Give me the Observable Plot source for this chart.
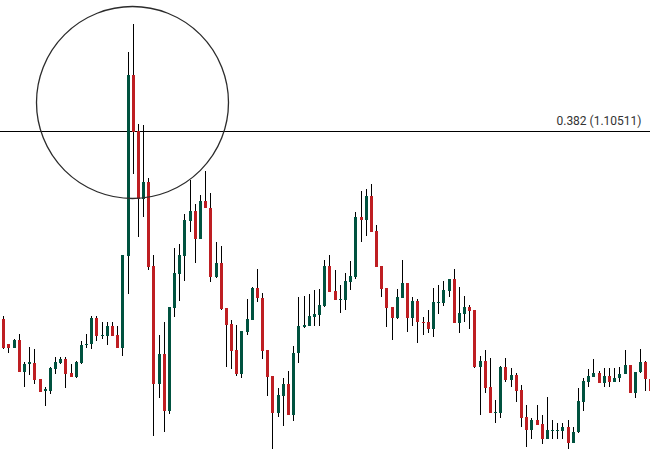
<!DOCTYPE html>
<html>
<head>
<meta charset="utf-8">
<script src="https://cdn.jsdelivr.net/npm/d3@7"></script>
<script src="https://cdn.jsdelivr.net/npm/@observablehq/plot@0.6"></script>
<style>
  html, body { margin: 0; padding: 0; background: #ffffff; }
  #chart { width: 650px; height: 450px; overflow: hidden; }
</style>
</head>
<body>
<div id="chart"></div>
<script>
// Candle OHLC prices, one entry per bar, left to right
const opens = [
  1.0863,1.0838,1.0834,1.0842,1.0810,1.0818,1.0819,1.0803,1.0791,1.0791,
  1.0813,1.0819,1.0823,1.0809,1.0805,1.0819,1.0837,1.0838,1.0864,1.0846,
  1.0846,1.0856,1.0847,1.0834,1.0926,1.1107,1.1051,1.0983,1.1000,1.0916,
  1.0798,1.0828,1.0771,1.0874,1.0908,1.0926,1.0961,1.0971,1.0943,1.0981,
  1.0974,1.0905,1.0919,1.0874,1.0858,1.0832,1.0808,1.0850,1.0862,1.0894,
  1.0884,1.0832,1.0806,1.0769,1.0786,1.0798,1.0767,1.0829,1.0855,1.0856,
  1.0865,1.0867,1.0876,1.0916,1.0891,1.0882,1.0882,1.0900,1.0905,1.0965,
  1.0962,1.0986,1.0951,1.0916,1.0894,1.0875,1.0864,1.0884,1.0899,1.0864,
  1.0881,1.0860,1.0860,1.0853,1.0879,1.0879,1.0891,1.0903,1.0859,1.0868,
  1.0875,1.0872,1.0815,1.0821,1.0795,1.0769,1.0769,1.0815,1.0802,1.0807,
  1.0792,1.0765,1.0752,1.0762,1.0758,1.0743,1.0751,1.0751,1.0751,1.0755,
  1.0739,1.0750,1.0780,1.0800,1.0805,1.0809,1.0799,1.0806,1.0800,1.0804,
  1.0808,1.0817,1.0789,1.0810,1.0820,1.0803
];
const highs = [
  1.0866,1.0838,1.0843,1.0848,1.0820,1.0835,1.0833,1.0803,1.0795,1.0815,
  1.0825,1.0825,1.0825,1.0818,1.0821,1.0841,1.0848,1.0866,1.0866,1.0860,
  1.0860,1.0860,1.0856,1.0927,1.1130,1.1158,1.1058,1.1057,1.1004,1.0927,
  1.0847,1.0860,1.0875,1.0934,1.0938,1.0968,1.1002,1.0978,1.0987,1.1011,
  1.0989,1.0940,1.0936,1.0874,1.0862,1.0857,1.0851,1.0883,1.0895,1.0913,
  1.0889,1.0832,1.0806,1.0794,1.0804,1.0811,1.0836,1.0885,1.0886,1.0888,
  1.0892,1.0893,1.0922,1.0927,1.0912,1.0897,1.0909,1.0921,1.0970,1.0991,
  1.0993,1.0998,1.0957,1.0916,1.0894,1.0875,1.0893,1.0922,1.0899,1.0885,
  1.0883,1.0865,1.0872,1.0894,1.0897,1.0901,1.0903,1.0913,1.0895,1.0886,
  1.0877,1.0872,1.0826,1.0832,1.0824,1.0782,1.0816,1.0824,1.0814,1.0809,
  1.0797,1.0777,1.0764,1.0777,1.0767,1.0785,1.0762,1.0759,1.0759,1.0762,
  1.0755,1.0794,1.0804,1.0813,1.0823,1.0811,1.0814,1.0814,1.0814,1.0815,
  1.0832,1.0817,1.0810,1.0833,1.0821,1.0809
];
const lows = [
  1.0833,1.0829,1.0834,1.0810,1.0795,1.0807,1.0798,1.0790,1.0776,1.0788,
  1.0808,1.0818,1.0794,1.0805,1.0804,1.0818,1.0834,1.0833,1.0841,1.0843,
  1.0837,1.0846,1.0834,1.0826,1.0888,1.1008,1.0945,1.0965,1.0912,1.0746,
  1.0784,1.0750,1.0768,1.0865,1.0881,1.0901,1.0950,1.0919,1.0943,1.0974,
  1.0900,1.0904,1.0872,1.0815,1.0813,1.0806,1.0804,1.0847,1.0862,1.0880,
  1.0823,1.0786,1.0733,1.0765,1.0756,1.0767,1.0761,1.0819,1.0854,1.0856,
  1.0856,1.0856,1.0875,1.0890,1.0882,1.0869,1.0872,1.0892,1.0903,1.0940,
  1.0946,1.0950,1.0915,1.0885,1.0855,1.0842,1.0863,1.0884,1.0850,1.0856,
  1.0839,1.0847,1.0849,1.0845,1.0868,1.0876,1.0885,1.0859,1.0849,1.0860,
  1.0853,1.0814,1.0767,1.0789,1.0769,1.0759,1.0764,1.0800,1.0795,1.0780,
  1.0755,1.0735,1.0743,1.0757,1.0738,1.0743,1.0743,1.0743,1.0743,1.0733,
  1.0739,1.0749,1.0771,1.0795,1.0805,1.0799,1.0795,1.0795,1.0800,1.0800,
  1.0808,1.0789,1.0784,1.0809,1.0791,1.0789
];
const closes = [
  1.0834,1.0834,1.0842,1.0810,1.0818,1.0820,1.0802,1.0790,1.0793,1.0814,
  1.0820,1.0823,1.0808,1.0805,1.0820,1.0837,1.0838,1.0864,1.0846,1.0847,
  1.0856,1.0846,1.0834,1.0927,1.1107,1.1050,1.0983,1.1000,1.0915,1.0798,
  1.0828,1.0771,1.0875,1.0909,1.0927,1.0962,1.0971,1.0943,1.0981,1.0974,
  1.0905,1.0919,1.0873,1.0857,1.0831,1.0808,1.0851,1.0863,1.0894,1.0884,
  1.0831,1.0805,1.0769,1.0787,1.0798,1.0767,1.0829,1.0856,1.0857,1.0866,
  1.0868,1.0877,1.0916,1.0890,1.0882,1.0883,1.0901,1.0906,1.0965,1.0962,
  1.0986,1.0950,1.0915,1.0893,1.0874,1.0864,1.0885,1.0899,1.0864,1.0881,
  1.0860,1.0859,1.0853,1.0880,1.0880,1.0892,1.0903,1.0859,1.0869,1.0875,
  1.0871,1.0815,1.0821,1.0794,1.0769,1.0770,1.0815,1.0802,1.0807,1.0791,
  1.0764,1.0752,1.0762,1.0757,1.0743,1.0752,1.0752,1.0752,1.0755,1.0739,
  1.0750,1.0781,1.0801,1.0806,1.0809,1.0799,1.0806,1.0800,1.0804,1.0808,
  1.0817,1.0789,1.0810,1.0820,1.0803,1.0791
];

// Fibonacci level and its label
const fibLevels = [1.10511];
const fibLabels = ["0.382 (1.10511)"];

// Highlight circle annotation (bar index, price)
const circleBar = [24.86];
const circlePrice = [1.1080];

const upColor = "#00523F";
const downColor = "#BE1E22";

const bars = opens.map((o, i) => ({ i, open: o, high: highs[i], low: lows[i], close: closes[i] }));
const ups = bars.filter(d => d.close >= d.open);
const downs = bars.filter(d => d.close < d.open);
const fib = fibLevels.map((v, k) => ({ level: v, label: fibLabels[k] }));
const circle = circleBar.map((b, k) => ({ bar: b, price: circlePrice[k] }));

const chart = Plot.plot({
  width: 650,
  height: 450,
  margin: 0,
  style: { background: "#ffffff", overflow: "hidden" },
  x: { type: "linear", domain: [-0.637, 124.92], axis: null },
  y: { domain: [1.0732, 1.1182], axis: null },
  marks: [
    Plot.ruleY(fib, { y: "level", stroke: "#000", strokeWidth: 1, shapeRendering: "crispEdges" }),
    Plot.ruleX(bars, { x: "i", y1: "low", y2: "high", stroke: "#000", strokeWidth: 1, shapeRendering: "crispEdges" }),
    Plot.ruleX(ups, { x: "i", y1: "open", y2: "close", stroke: upColor, strokeWidth: 3, shapeRendering: "crispEdges" }),
    Plot.ruleX(downs, { x: "i", y1: "open", y2: "close", stroke: downColor, strokeWidth: 3, shapeRendering: "crispEdges" }),
    Plot.dot(circle, { x: "bar", y: "price", r: 96, stroke: "#2b2b2b", strokeWidth: 1.3, fill: "none" }),
    Plot.text(fib, {
      y: "level", text: "label", frameAnchor: "right", textAnchor: "end",
      dx: -9, dy: -10, fontSize: 12, fontFamily: "Roboto, sans-serif", fill: "#333"
    })
  ]
});
document.getElementById("chart").appendChild(chart);
</script>
</body>
</html>
